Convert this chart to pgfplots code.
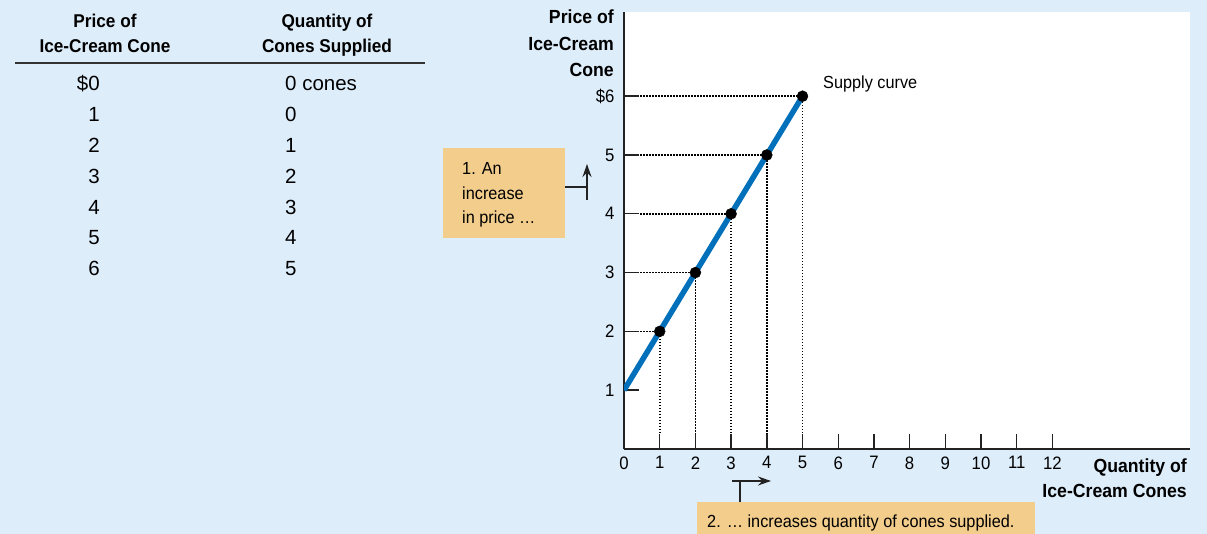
\documentclass[border=0pt]{standalone}
\usepackage{fontspec}
\setmainfont{Liberation Sans}
\newfontfamily\cf[FakeStretch=0.93]{Liberation Sans}
\usepackage{pgfplots}
\pgfplotsset{compat=1.18}
\usetikzlibrary{arrows.meta}

\definecolor{bgblue}{RGB}{222,237,250}
\definecolor{boxtan}{RGB}{243,205,140}
\definecolor{supplyblue}{RGB}{0,112,186}
\definecolor{axisgray}{RGB}{35,35,35}

\newcommand\tickfont{\cf\fontsize{18}{20}\selectfont}
\newcommand\labfont{\cf\bfseries\fontsize{19}{26}\selectfont}
\newcommand\boxfont{\cf\fontsize{17.5}{24}\selectfont}
\newcommand\tabfont{\fontsize{20.5}{24}\selectfont}
\newcommand\headfont{\cf\bfseries\fontsize{18.5}{24}\selectfont}

\pgfplotsset{guide/.style={line width=1.7pt, black, dash pattern=on 1.5pt off 1.5pt}}

\begin{document}
\begin{tikzpicture}[x=1pt,y=1pt]
\fill[bgblue] (0,0) rectangle (1207,534);
\useasboundingbox (0,0) rectangle (1207,534);

% schedule table
\node[font=\headfont,anchor=base] at (105,506) {Price of};
\node[font=\headfont,anchor=base] at (105,481) {Ice-Cream Cone};
\node[font=\headfont,anchor=base] at (327,506) {Quantity of};
\node[font=\headfont,anchor=base] at (327,481) {Cones Supplied};
\draw[line width=1.5pt,black!80] (15,471) -- (425,471);
\foreach \p/\q [count=\i from 0] in {\$0/0 cones,1/0,2/1,3/2,4/3,5/4,6/5}{
  \node[font=\tabfont,anchor=base east,inner sep=0] at (100,443-30.8*\i) {\p};
  \node[font=\tabfont,anchor=base west,inner sep=0] at (285,443-30.8*\i) {\q};
}

% supply curve
\begin{axis}[
  at={(624pt,85pt)}, anchor=south west,
  x=35.7pt, y=58.8pt,
  xmin=0, xmax=15.85, ymin=0, ymax=7.43,
  axis lines=left,
  axis line style={-, line width=1.7pt, axisgray},
  axis background/.style={fill=white},
  tick align=inside, major tick length=15pt,
  tick style={line width=1.4pt, axisgray},
  xtick={0,...,12}, ytick={1,...,6},
  xticklabels={0,1,2,3,4,5,6,7,8,9,10,11,12},
  yticklabels={1,2,3,4,5,\$6},
  xticklabel style={font=\tickfont, yshift=-4pt},
  yticklabel style={font=\tickfont, xshift=-6pt},
]
\addplot[guide] coordinates {(0.45,2) (1,2) (1,0.25)};
\addplot[guide] coordinates {(0.45,3) (2,3) (2,0.25)};
\addplot[guide] coordinates {(0.45,4) (3,4) (3,0.25)};
\addplot[guide] coordinates {(0.45,5) (4,5) (4,0.25)};
\addplot[guide] coordinates {(0.45,6) (5,6) (5,0.25)};
\addplot[line width=5.5pt, supplyblue] coordinates {(0,1) (5,6)};
\addplot[only marks, mark=*, mark size=5.5pt, black] coordinates {(1,2) (2,3) (3,4) (4,5) (5,6)};
\end{axis}

\node[font=\boxfont,anchor=base west,inner sep=0] at (823,445) {Supply curve};

% axis titles
\node[font=\labfont,anchor=base east,inner sep=0] at (614,510) {Price of};
\node[font=\labfont,anchor=base east,inner sep=0] at (614,483) {Ice-Cream};
\node[font=\labfont,anchor=base east,inner sep=0] at (614,457) {Cone};
\node[font=\labfont,anchor=base east,inner sep=0] at (1187,61) {Quantity of};
\node[font=\labfont,anchor=base east,inner sep=0] at (1187,36) {Ice-Cream Cones};

% annotation 1
\fill[boxtan] (443,386) rectangle (565,296);
\node[font=\boxfont,anchor=base west,inner sep=0] at (462,359) {1. An};
\node[font=\boxfont,anchor=base west,inner sep=0] at (462,334) {increase};
\node[font=\boxfont,anchor=base west,inner sep=0] at (462,310) {in price \ldots};
\draw[line width=1.4pt,axisgray] (565,347) -- (587,347);
\draw[line width=1.4pt,axisgray,-{Stealth[length=13pt,width=9pt]}] (587,334) -- (587,370);

% annotation 2
\fill[boxtan] (697,32) rectangle (1035,-10);
\node[font=\boxfont,anchor=base west,inner sep=0] at (707,6) {2. \ldots\ increases quantity of cones supplied.};
\draw[line width=1.4pt,axisgray] (740,32) -- (740,53);
\draw[line width=1.4pt,axisgray,-{Stealth[length=13pt,width=9pt]}] (732,53) -- (771,53);
\end{tikzpicture}
\end{document}
